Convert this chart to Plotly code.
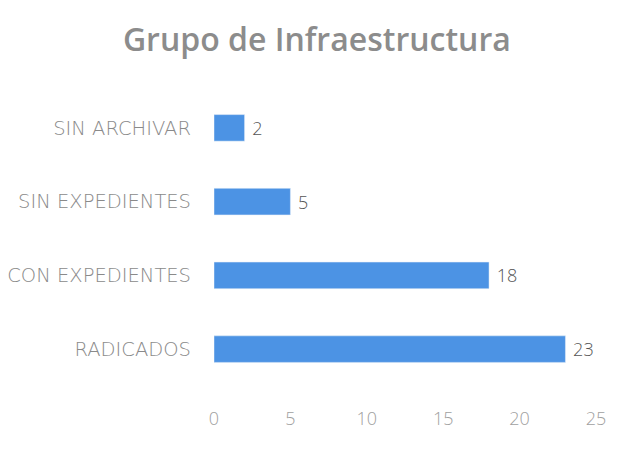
import plotly.graph_objects as go

# Chart data
categories = ["SIN ARCHIVAR", "SIN EXPEDIENTES", "CON EXPEDIENTES", "RADICADOS"]
values     = [2, 5, 18, 23]
x_ticks    = [0, 5, 10, 15, 20, 25]

BAR_BLUE   = "#4c93e4"
LABEL_GRAY = "#8a8a8a"
VALUE_GRAY = "#555555"

fig = go.Figure(go.Bar(
    x             = values,
    y             = categories,
    orientation   = "h",
    marker_color  = BAR_BLUE,
    texttemplate  = " %{x}",
    textposition  = "outside",
    textfont      = dict(size=18, color=VALUE_GRAY, family="Open Sans", weight=300),
    cliponaxis    = False,
))

# page body has an 8px margin, so the figure is sized 8px smaller
fig.update_layout(
    width         = 629,
    height        = 441,
    paper_bgcolor = "white",
    plot_bgcolor  = "white",
    margin        = dict(l=206, r=41, t=83, b=63),
    bargap        = 0.64,
    showlegend    = False,
    title         = dict(
        text="Grupo de Infraestructura",
        x=0.491, xanchor="center", y=0.927, yanchor="middle",
        font=dict(size=32, color="#8c8c8c", family="Open Sans", weight=600),
    ),
    font          = dict(family="Open Sans", color=LABEL_GRAY),
)

fig.update_xaxes(
    range=[0, 25], tickvals=x_ticks, showgrid=False, zeroline=False,
    showline=False, ticks="", ticklabelstandoff=20, automargin=False,
    tickfont=dict(size=18, color="#a0a0a0", family="Open Sans", weight=300),
)
fig.update_yaxes(
    categoryorder="array", categoryarray=categories[::-1],
    showgrid=False, showline=False, ticks="", ticklabelstandoff=22,
    automargin=False,
    tickfont=dict(size=19.5, color=LABEL_GRAY, family="DejaVu Sans", weight=200),
)

fig.write_html("out.html")
